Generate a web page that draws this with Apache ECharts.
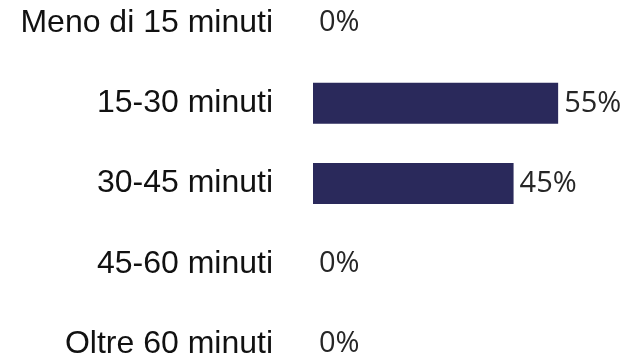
<!DOCTYPE html>
<html>
<head>
<meta charset="utf-8">
<style>
  html, body { margin: 0; padding: 0; background: #ffffff; }
  #chart { width: 625px; height: 360px; }
</style>
<script src="https://cdn.jsdelivr.net/npm/echarts@6/dist/echarts.min.js"></script>
</head>
<body>
<div id="chart"></div>
<script>
// Tempo impiegato: categorie e percentuali
const categories = ['Meno di 15 minuti', '15-30 minuti', '30-45 minuti', '45-60 minuti', 'Oltre 60 minuti'];
const percentages = [0, 55, 45, 0, 0];

const chart = echarts.init(document.getElementById('chart'), null, { renderer: 'canvas' });

chart.setOption({
  animation: false,
  backgroundColor: '#ffffff',
  grid: { left: 313, top: 23, width: 313.6, height: 321, containLabel: false },
  xAxis: {
    type: 'value',
    min: 0,
    max: 70,
    show: false
  },
  yAxis: {
    type: 'category',
    data: categories,
    inverse: true,
    boundaryGap: false,
    axisLine: { show: false },
    axisTick: { show: false },
    splitLine: { show: false },
    axisLabel: {
      margin: 40,
      fontFamily: '"Liberation Sans", Arial, sans-serif',
      fontSize: 32,
      color: '#111111'
    }
  },
  series: [{
    type: 'bar',
    data: percentages,
    barWidth: 41,
    itemStyle: { color: '#2a295b' },
    label: {
      show: true,
      position: 'right',
      distance: 6,
      formatter: p => p.value + '%',
      fontFamily: '"Open Sans", sans-serif',
      fontSize: 29,
      color: '#262626'
    }
  }]
});
</script>
</body>
</html>
